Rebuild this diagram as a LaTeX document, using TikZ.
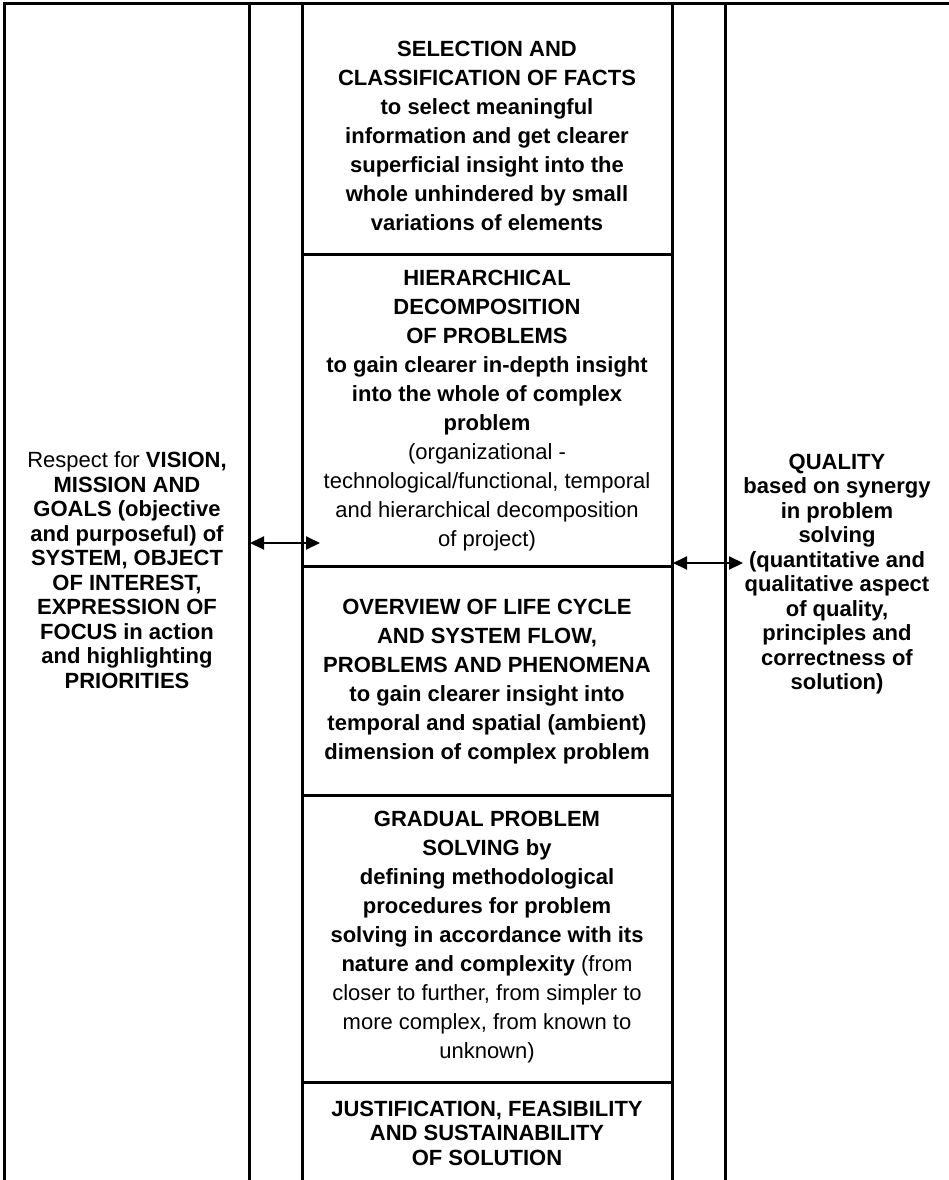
\documentclass[tikz,border=0pt]{standalone}
\usepackage{fontspec}
\setmainfont{Liberation Sans}
\usetikzlibrary{arrows.meta}
\begin{document}
\begin{tikzpicture}[x=1pt,y=-1pt,
  frame/.style={line width=3pt},
  txt/.style={align=center, inner sep=0pt, font=\fontsize{22}{24.5}\selectfont\bfseries},
  ctxt/.style={align=center, inner sep=0pt, font=\fontsize{22}{29}\selectfont\bfseries},
  link/.style={line width=2pt, {Triangle[length=14pt,width=13pt]}-{Triangle[length=14pt,width=13pt]}}]
\useasboundingbox (0,0) rectangle (949,1180);
% frame
\coordinate (c0) at (4,1182);
\coordinate (c1) at (4,4);
\coordinate (c2) at (950,4);
\draw[frame] (c0) -- (c1) -- (c2);
\foreach \x/\n in {249/v1,302/v2,672/v3,725/v4}{
  \coordinate (\n t) at (\x,4);
  \coordinate (\n b) at (\x,1182);
  \draw[frame] (\n t) -- (\n b);
}
\foreach \y/\n in {254/h1,566/h2,795/h3,1082/h4}{
  \coordinate (\n l) at (302,\y);
  \coordinate (\n r) at (672,\y);
  \draw[frame] (\n l) -- (\n r);
}
% texts
\node[txt] (left) at (127,570) {\mdseries Respect for \bfseries VISION,\\MISSION AND\\GOALS (objective\\and purposeful) of\\SYSTEM, OBJECT\\OF INTEREST,\\EXPRESSION OF\\FOCUS in action\\and highlighting\\PRIORITIES};
\node[txt] (right) at (837,574) {QUALITY\\based on synergy\\in problem\\solving\\(quantitative and\\qualitative aspect\\of quality,\\principles and\\correctness of\\solution)};
\node[ctxt] (b1) at (487,136) {SELECTION AND\\CLASSIFICATION OF FACTS\\to select meaningful\\information and get clearer\\superficial insight into the\\whole unhindered by small\\variations of elements};
\node[ctxt] (b2) at (487,411) {HIERARCHICAL\\DECOMPOSITION\\OF PROBLEMS\\to gain clearer in-depth insight\\into the whole of complex\\problem\\\mdseries(organizational -\\\mdseries technological/functional, temporal\\\mdseries and hierarchical decomposition\\\mdseries of project)};
\node[ctxt] (b3) at (487,682) {OVERVIEW OF LIFE CYCLE\\AND SYSTEM FLOW,\\PROBLEMS AND PHENOMENA\\to gain clearer insight into\\temporal and spatial (ambient)\\dimension of complex problem};
\node[ctxt] (b4) at (487,937) {GRADUAL PROBLEM\\SOLVING by\\defining methodological\\procedures for problem\\solving in accordance with its\\nature and complexity \mdseries(from\\\mdseries closer to further, from simpler to\\\mdseries more complex, from known to\\\mdseries unknown)};
\node[txt] (b5) at (487,1133) {JUSTIFICATION, FEASIBILITY\\AND SUSTAINABILITY\\OF SOLUTION};
% arrows
\coordinate (la) at (250,543);
\coordinate (lb) at (320,543);
\coordinate (ra) at (673,563);
\coordinate (rb) at (743,563);
\draw[link] (la) -- (lb);
\draw[link] (ra) -- (rb);
\end{tikzpicture}
\end{document}
